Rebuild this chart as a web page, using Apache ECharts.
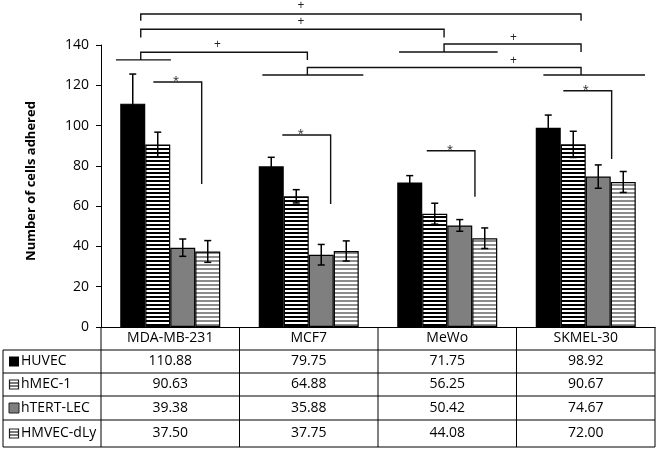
<!DOCTYPE html>
<html><head><meta charset="utf-8">
<script src="https://cdn.jsdelivr.net/npm/echarts@6/dist/echarts.min.js"></script>
<style>html,body{margin:0;padding:0;background:#fff}#c{width:660px;height:451px}</style>
</head><body><div id="c"></div>
<script>
// ---- data ----
const categories = ['MDA-MB-231', 'MCF7', 'MeWo', 'SKMEL-30'];
const seriesNames = ['HUVEC', 'hMEC-1', 'hTERT-LEC', 'HMVEC-dLy'];
const huvec = [110.88, 79.75, 71.75, 98.92];
const hmec = [90.63, 64.88, 56.25, 90.67];
const htert = [39.38, 35.88, 50.42, 74.67];
const hmvec = [37.50, 37.75, 44.08, 72.00];
const huvecErr = [14.7, 4.5, 3.4, 6.3];
const hmecErr = [6.1, 3.3, 5.2, 6.5];
const htertErr = [4.3, 5.1, 2.9, 5.8];
const hmvecErr = [5.4, 5.0, 5.1, 5.2];
const tableText = [
  ['110.88', '79.75', '71.75', '98.92'],
  ['90.63', '64.88', '56.25', '90.67'],
  ['39.38', '35.88', '50.42', '74.67'],
  ['37.50', '37.75', '44.08', '72.00']
];
const yMin = 0, yMax = 140, yStep = 20;
// significance brackets (x: category index, y: value): [x1, x2, yTop, yFoot, labelX, labelY]
const plusBrackets = [
  [-0.213, 2.966, 155.4, 152.1, 0.944, 159.4],
  [-0.213, 1.977, 147.8, 143.7, 0.944, 151.8],
  [-0.213, 0.990, 136.4, 132.6, 0.340, 140.3],
  [1.977, 2.966, 140.5, 136.5, 2.477, 143.9],
  [0.990, 2.966, 128.8, 125.1, 2.477, 132.2]
];
// group baselines under bracket feet: [x1, x2, y]
const bracketFeet = [
  [-0.392, 0.005, 132.6],
  [1.652, 2.364, 136.5],
  [0.665, 1.394, 125.1],
  [2.694, 3.428, 125.1]
];
// star brackets: [x1, x2, yTop, yEnd, starX]
const starBrackets = [
  [-0.122, 0.227, 121.6, 71.0, 0.042],
  [0.809, 1.158, 95.3, 61.1, 0.942],
  [1.852, 2.200, 87.5, 64.7, 2.020],
  [2.838, 3.187, 117.3, 83.4, 3.000]
];

const values = [huvec, hmec, htert, hmvec];
const errs = [huvecErr, hmecErr, htertErr, hmvecErr];
const FONT = '"Open Sans", "Noto Sans", sans-serif';

function stripe(fg, bg) {
  const c = document.createElement('canvas');
  c.width = 4; c.height = 4;
  const g = c.getContext('2d');
  g.fillStyle = bg; g.fillRect(0, 0, 4, 4);
  g.fillStyle = fg; g.fillRect(0, 0, 4, 2);
  return c;
}
const fills = [
  '#000000',
  { image: stripe('#000000', '#ffffff'), repeat: 'repeat' },
  '#7f7f7f',
  { image: stripe('#8c8c8c', '#ffffff'), repeat: 'repeat' }
];

const BW = 25;
const chart = echarts.init(document.getElementById('c'));

const series = [];
values.forEach((vals, i) => {
  series.push({
    name: seriesNames[i], type: 'bar', data: vals, barWidth: BW, barGap: '0%',
    itemStyle: { color: fills[i], borderColor: '#000', borderWidth: 1.2 },
    emphasis: { disabled: true }, z: 2
  });
});
values.forEach((vals, i) => {
  series.push({
    type: 'custom', z: 5, silent: true,
    data: vals.map((v, j) => [j, v, errs[i][j]]),
    encode: { x: 0, y: 1 },
    renderItem: function (params, api) {
      const x = api.coord([api.value(0), 0])[0] + (i - 1.5) * BW;
      const yt = api.coord([api.value(0), api.value(1) + api.value(2)])[1];
      const yb = api.coord([api.value(0), api.value(1) - api.value(2)])[1];
      const st = { stroke: '#000', lineWidth: 1.5 };
      return { type: 'group', children: [
        { type: 'line', shape: { x1: x, y1: yt, x2: x, y2: yb }, style: st },
        { type: 'line', shape: { x1: x - 3.5, y1: yt, x2: x + 3.5, y2: yt }, style: st },
        { type: 'line', shape: { x1: x - 3.5, y1: yb, x2: x + 3.5, y2: yb }, style: st }
      ] };
    }
  });
});
series.push({
  type: 'custom', xAxisIndex: 1, yAxisIndex: 0, z: 6, silent: true, clip: false,
  data: [[0, 0]],
  renderItem: function (params, api) {
    const ch = [];
    const st = { stroke: '#111', lineWidth: 1.4 };
    const P = (x, y) => api.coord([x, y]);
    plusBrackets.forEach(b => {
      const a = P(b[0], b[3]), b1 = P(b[0], b[2]), c = P(b[1], b[2]), d = P(b[1], b[3]);
      ch.push({ type: 'polyline', shape: { points: [a, b1, c, d] }, style: Object.assign({ fill: null }, st) });
      const l = P(b[4], b[5]);
      ch.push({ type: 'text', x: l[0], y: l[1], style: { text: '+', fill: '#222', font: '12px ' + FONT, align: 'center', verticalAlign: 'middle' } });
    });
    bracketFeet.forEach(f => {
      const a = P(f[0], f[2]), b = P(f[1], f[2]);
      ch.push({ type: 'line', shape: { x1: a[0], y1: a[1], x2: b[0], y2: b[1] }, style: st });
    });
    starBrackets.forEach(s => {
      const a = P(s[0], s[2]), b = P(s[1], s[2]), c = P(s[1], s[3]);
      ch.push({ type: 'polyline', shape: { points: [a, b, c] }, style: Object.assign({ fill: null }, st) });
      const l = P(s[4], s[2]);
      ch.push({ type: 'text', x: l[0], y: l[1] - 1, style: { text: '*', fill: '#222', font: '11px ' + FONT, align: 'center', verticalAlign: 'middle' } });
    });
    return { type: 'group', children: ch };
  }
});

chart.setOption({
  animation: false,
  backgroundColor: '#fff',
  grid: { left: 101, right: 5, top: 45, bottom: 124, containLabel: false },
  xAxis: [
    { type: 'category', data: categories,
      axisLine: { onZero: false, lineStyle: { color: '#000', width: 1 } },
      axisTick: { show: false },
      axisLabel: { color: '#000', fontSize: 14, fontFamily: FONT, margin: 4, lineHeight: 14 } },
    { type: 'value', min: -0.5, max: 3.5, show: false, axisLine: { onZero: false } }
  ],
  yAxis: { type: 'value', min: yMin, max: yMax, interval: yStep,
    splitLine: { show: false },
    axisLine: { show: true, onZero: false, lineStyle: { color: '#000', width: 1 } },
    axisTick: { show: true, length: 5, lineStyle: { color: '#000' } },
    axisLabel: { color: '#000', fontSize: 14, fontFamily: FONT, margin: 12 } },
  series: series
});

// ---- table ----
const g = [];
const lineSt = { stroke: '#000', lineWidth: 1 };
const centers = categories.map((c, j) => chart.convertToPixel({ xAxisIndex: 0 }, j));
const half = (centers[1] - centers[0]) / 2;
const colX = [centers[0] - half].concat(centers.map(c => c + half));
const tTop = 327, rowY = [350, 373, 396, 420, 447], leftX = 3;
colX.forEach(x => g.push({ type: 'line', shape: { x1: x, y1: tTop, x2: x, y2: rowY[4] }, style: lineSt }));
g.push({ type: 'line', shape: { x1: leftX, y1: rowY[0], x2: leftX, y2: rowY[4] }, style: lineSt });
rowY.forEach(y => g.push({ type: 'line', shape: { x1: leftX, y1: y, x2: colX[4], y2: y }, style: lineSt }));
seriesNames.forEach((n, i) => {
  const cy = (rowY[i] + rowY[i + 1]) / 2;
  const ix = 9, iy = cy - 5, s = 10;
  if (i === 0) g.push({ type: 'rect', shape: { x: ix, y: iy, width: s, height: s }, style: { fill: '#000' } });
  if (i === 2) g.push({ type: 'rect', shape: { x: ix, y: iy, width: s, height: s }, style: { fill: '#7f7f7f', stroke: '#222', lineWidth: 1 } });
  if (i === 1 || i === 3) {
    g.push({ type: 'rect', shape: { x: ix + 0.5, y: iy + 0.5, width: s - 1, height: s - 1 }, style: { fill: '#fff', stroke: '#222', lineWidth: 1.2 } });
    g.push({ type: 'line', shape: { x1: ix, y1: iy + 3.5, x2: ix + s, y2: iy + 3.5 }, style: { stroke: '#222', lineWidth: 1.2 } });
    g.push({ type: 'line', shape: { x1: ix, y1: iy + 6.5, x2: ix + s, y2: iy + 6.5 }, style: { stroke: '#222', lineWidth: 1.2 } });
  }
  g.push({ type: 'text', x: 21, y: cy, style: { text: n, fill: '#000', font: '14px ' + FONT, verticalAlign: 'middle', align: 'left' } });
  tableText[i].forEach((t, j) => {
    g.push({ type: 'text', x: centers[j], y: cy, style: { text: t, fill: '#000', font: '14px ' + FONT, verticalAlign: 'middle', align: 'center' } });
  });
});
g.push({ type: 'text', x: 31, y: 181, rotation: Math.PI / 2,
  style: { text: 'Number of cells adhered', fill: '#000', font: 'bold 13px ' + FONT, align: 'center', verticalAlign: 'middle' } });
chart.setOption({ graphic: [{ type: 'group', silent: true, children: g }] });
</script>
</body></html>
